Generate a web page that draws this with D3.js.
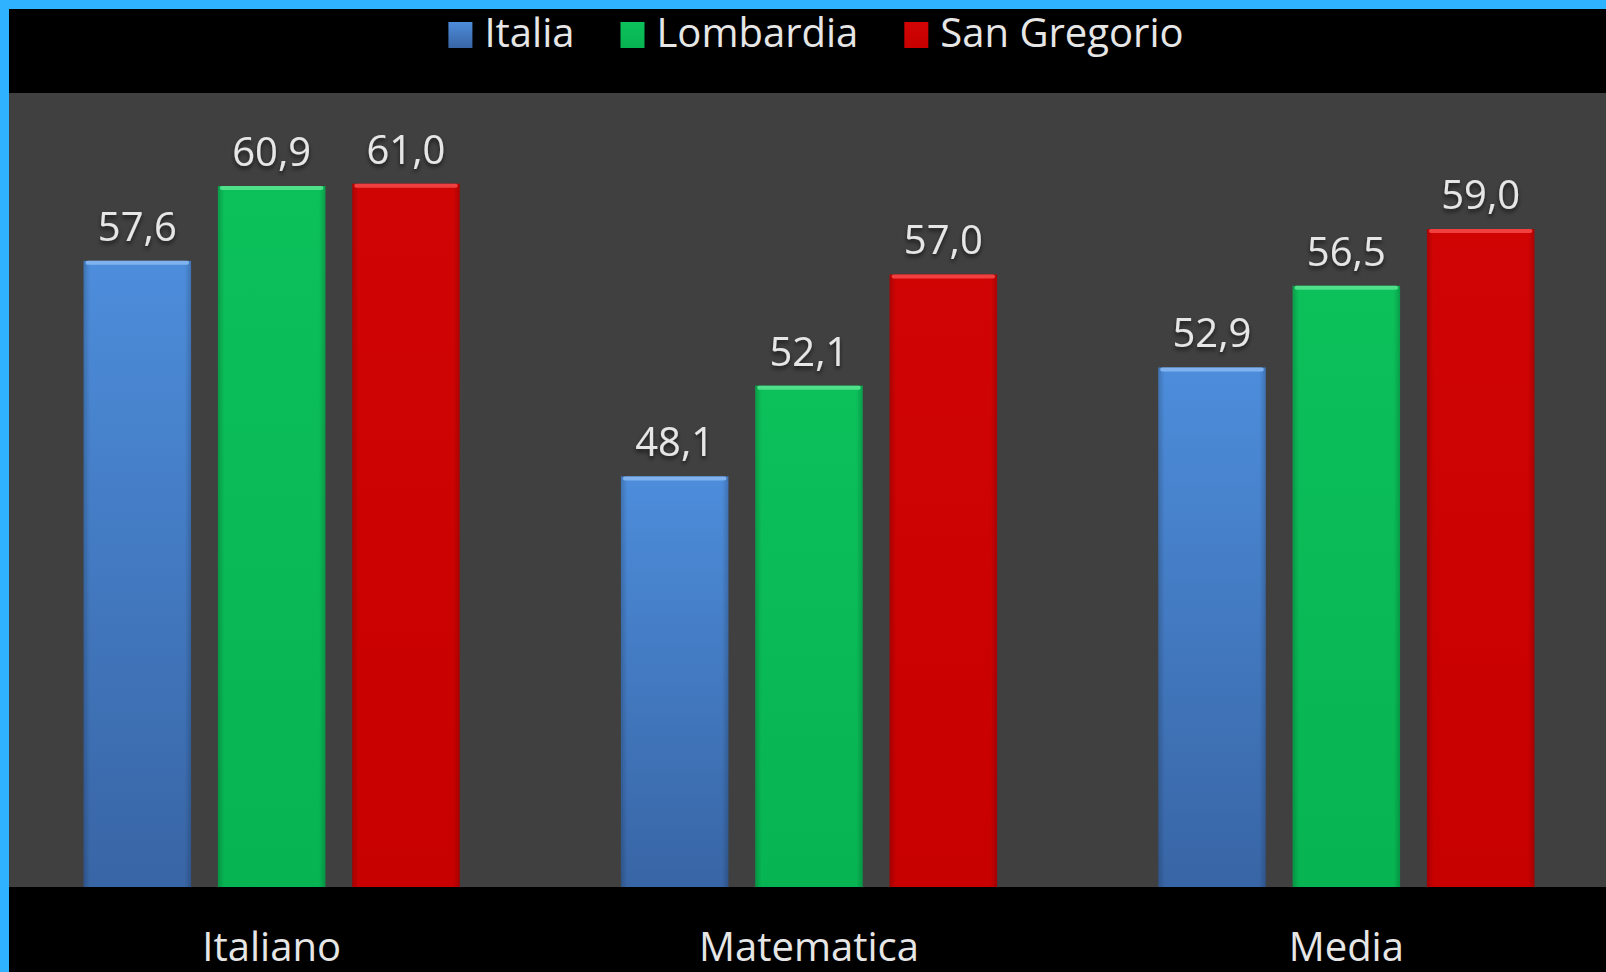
<!DOCTYPE html>
<html>
<head>
<meta charset="utf-8">
<script src="https://cdn.jsdelivr.net/npm/d3@7/dist/d3.min.js"></script>
<style>
  html, body { margin: 0; padding: 0; background: #000; }
  svg { display: block; }
  text { font-family: "Open Sans", "Noto Sans", sans-serif; fill: #e6e6e6; }
</style>
</head>
<body>
<svg id="chart" width="1606" height="972"></svg>
<script>
const categories = ["Italiano", "Matematica", "Media"];
const seriesNames = ["Italia", "Lombardia", "San Gregorio"];
const italia = [57.6, 48.1, 52.9];
const lombardia = [60.9, 52.1, 56.5];
const sanGregorio = [61.0, 57.0, 59.0];
const yDomain = [30, 65];

const seriesValues = [italia, lombardia, sanGregorio];
const colors = [
  { top: "#4d8ddb", bottom: "#3865a5", hi: "#7fb2ee" },
  { top: "#0cc05a", bottom: "#07b452", hi: "#4fe08a" },
  { top: "#d10404", bottom: "#c70000", hi: "#f04040" }
];

const W = 1606, H = 972;
const svg = d3.select("#chart");

// frame
svg.append("rect").attr("x", 0).attr("y", 0).attr("width", W).attr("height", H).attr("fill", "#000");
svg.append("rect").attr("x", 0).attr("y", 0).attr("width", W).attr("height", 9).attr("fill", "#2fb2ff");
svg.append("rect").attr("x", 0).attr("y", 0).attr("width", 9).attr("height", H).attr("fill", "#2fb2ff");

const plotTop = 93, plotBottom = 887;
svg.append("rect").attr("x", 9).attr("y", plotTop).attr("width", W - 9).attr("height", plotBottom - plotTop).attr("fill", "#404040");

const defs = svg.append("defs");
colors.forEach((c, i) => {
  const g = defs.append("linearGradient").attr("id", "grad" + i).attr("x1", 0).attr("y1", 0).attr("x2", 0).attr("y2", 1);
  g.append("stop").attr("offset", "0%").attr("stop-color", c.top);
  g.append("stop").attr("offset", "100%").attr("stop-color", c.bottom);
  const h = defs.append("linearGradient").attr("id", "side" + i).attr("x1", 0).attr("y1", 0).attr("x2", 1).attr("y2", 0);
  h.append("stop").attr("offset", "0%").attr("stop-color", "#000").attr("stop-opacity", 0.18);
  h.append("stop").attr("offset", "6%").attr("stop-color", "#000").attr("stop-opacity", 0);
  h.append("stop").attr("offset", "94%").attr("stop-color", "#000").attr("stop-opacity", 0);
  h.append("stop").attr("offset", "100%").attr("stop-color", "#000").attr("stop-opacity", 0.18);
});
const shadow = defs.append("filter").attr("id", "tshadow").attr("x", "-10%").attr("y", "-10%").attr("width", "120%").attr("height", "140%");
shadow.append("feDropShadow").attr("dx", 0).attr("dy", 3).attr("stdDeviation", 2).attr("flood-color", "#000").attr("flood-opacity", 0.6);

const x0 = d3.scaleBand().domain(categories).range([3, 1615]).paddingInner(0.25).paddingOuter(0.125);
const x1 = d3.scaleBand().domain(seriesNames).range([0, x0.bandwidth()]).paddingInner(0.2).paddingOuter(0.1);
const y = d3.scaleLinear().domain(yDomain).range([plotBottom, plotTop]);

const data = [];
categories.forEach((cat, ci) => {
  seriesNames.forEach((s, si) => {
    data.push({ cat, s, si, v: seriesValues[si][ci] });
  });
});

const bars = svg.append("g").selectAll("g").data(data).join("g")
  .attr("transform", d => `translate(${x0(d.cat) + x1(d.s)},0)`);

bars.append("rect")
  .attr("x", 0).attr("y", d => y(d.v))
  .attr("width", x1.bandwidth()).attr("height", d => plotBottom - y(d.v))
  .attr("fill", d => `url(#grad${d.si})`);
bars.append("rect")
  .attr("x", 0).attr("y", d => y(d.v))
  .attr("width", x1.bandwidth()).attr("height", d => plotBottom - y(d.v))
  .attr("fill", d => `url(#side${d.si})`);
bars.append("rect")
  .attr("x", 2).attr("y", d => y(d.v))
  .attr("width", x1.bandwidth() - 4).attr("height", 4)
  .attr("rx", 2)
  .attr("fill", d => colors[d.si].hi);

bars.append("text")
  .attr("x", x1.bandwidth() / 2)
  .attr("y", d => y(d.v) - 20)
  .attr("text-anchor", "middle")
  .attr("font-size", 40)
  .attr("filter", "url(#tshadow)")
  .text(d => d.v.toFixed(1).replace(".", ","));

// category axis labels
svg.append("g").selectAll("text").data(categories).join("text")
  .attr("x", d => x0(d) + x0.bandwidth() / 2)
  .attr("y", 961)
  .attr("text-anchor", "middle")
  .attr("font-size", 40)
  .text(d => d);

// legend
const legend = svg.append("g");
const items = legend.selectAll("g").data(seriesNames).join("g");
items.append("rect").attr("x", 0).attr("y", 22).attr("width", 24).attr("height", 26)
  .attr("fill", (d, i) => `url(#grad${i})`);
items.append("text").attr("x", 36).attr("y", 47).attr("font-size", 40).text(d => d);
const widths = [];
items.each(function () {
  const t = d3.select(this).select("text").node().getComputedTextLength();
  widths.push(36 + t);
});
const gap = 46;
const total = d3.sum(widths) + gap * (widths.length - 1);
let start = 816 - total / 2;
items.attr("transform", (d, i) => {
  const tx = start;
  start += widths[i] + gap;
  return `translate(${tx},0)`;
});
</script>
</body>
</html>
